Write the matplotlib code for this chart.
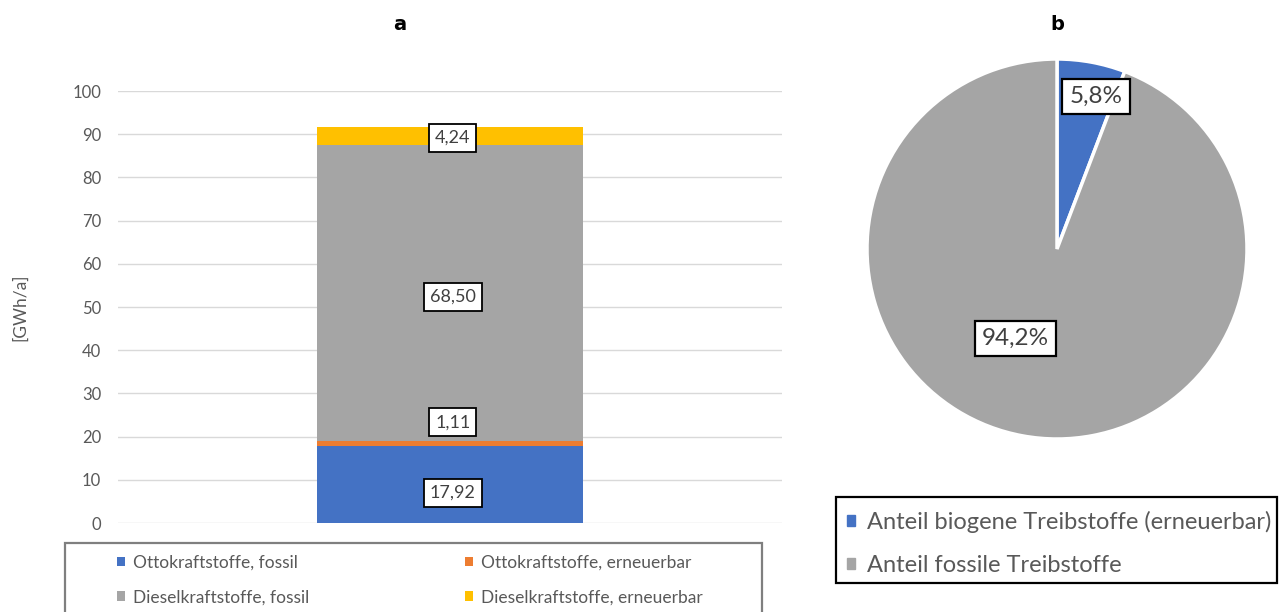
import matplotlib.pyplot as plt
from matplotlib.patches import Patch, Rectangle

# Endenergie Verkehr nach Kraftstoffart [GWh/a]
serien = ['Ottokraftstoffe, fossil', 'Ottokraftstoffe, erneuerbar',
          'Dieselkraftstoffe, fossil', 'Dieselkraftstoffe, erneuerbar']
werte = [17.92, 1.11, 68.50, 4.24]
farben = ['#4472C4', '#ED7D31', '#A5A5A5', '#FFC000']
label_offset = [-6.3, 15, -3, -1.7]  # pt, damit sich die Labels nicht ueberlappen

# Anteile biogen / fossil [%]
anteil_namen = ['Anteil biogene Treibstoffe (erneuerbar)', 'Anteil fossile Treibstoffe']
anteil_werte = [5.8, 94.2]
anteil_farben = ['#4472C4', '#A5A5A5']

plt.rcParams['font.family'] = ['Lato', 'DejaVu Sans']
W, H = 1279, 612


def fx(px):
    return px / W


def fy(py):
    return 1 - py / H


fig = plt.figure(figsize=(W / 100, H / 100), dpi=100)

# --- a: gestapelter Balken ---
ax = fig.add_axes([fx(118), fy(523), fx(782) - fx(118), fy(91) - fy(523)])
unten = 0
for name, wert, farbe, off in zip(serien, werte, farben, label_offset):
    ax.bar(0, wert, bottom=unten, width=1.0, color=farbe, label=name, zorder=2)
    ax.annotate(f'{wert:.2f}'.replace('.', ','), (0, unten + wert / 2),
                xytext=(2, off), textcoords='offset points',
                ha='center', va='center', fontsize=13, color='#404040', zorder=3,
                bbox=dict(boxstyle='square,pad=0.33', fc='white', ec='black', lw=1.3))
    unten += wert

ax.set_xlim(-1.25, 1.25)
ax.set_ylim(0, 100)
ax.set_yticks(range(0, 101, 10))
ax.set_xticks([])
ax.tick_params(axis='y', length=0, labelsize=12, labelcolor='#595959', pad=12)
ax.grid(axis='y', color='#D9D9D9', lw=1, zorder=0)
for s in ax.spines.values():
    s.set_visible(False)
fig.text(fx(20), fy(307), '[GWh/a]', rotation=90, ha='center', va='center',
         fontsize=12.5, color='#595959')

fig.text(fx(400), fy(25), 'a', ha='center', va='center',
         fontsize=14, fontweight='bold', family='DejaVu Sans')

# Legende in zwei Spalten mit Rahmen
h, l = ax.get_legend_handles_labels()
for idx, x0 in (([0, 2], 117), ([1, 3], 465)):
    lg = fig.legend([h[i] for i in idx], [l[i] for i in idx],
                    loc='center left', bbox_to_anchor=(fx(x0), fy(580)),
                    fontsize=12.5, frameon=False, borderpad=0, borderaxespad=0,
                    handlelength=0.46, handleheight=0.46, handletextpad=0.48,
                    labelspacing=1.07, labelcolor='#595959')
fig.add_artist(Rectangle((fx(65), fy(640)), fx(762) - fx(65), fy(543) - fy(640),
                         transform=fig.transFigure, fill=False,
                         ec='#7F7F7F', lw=1.6, clip_on=False))

# --- b: Kreisdiagramm ---
r = 190
ax2 = fig.add_axes([fx(1057 - r), fy(249 + r), fx(2 * r), fy(0) - fy(2 * r)])
keile, _ = ax2.pie(anteil_werte, colors=anteil_farben, startangle=90, counterclock=False,
                   wedgeprops=dict(edgecolor='white', linewidth=2.5))
ax2.set_xlim(-1, 1)
ax2.set_ylim(-1, 1)

pos = [(0.205, 0.803), (-0.218, -0.471)]
for wert, (x, y) in zip(anteil_werte, pos):
    ax2.text(x, y, f'{wert:.1f}%'.replace('.', ','), ha='center', va='center',
             fontsize=17.5, color='#404040',
             bbox=dict(boxstyle='square,pad=0.3', fc='white', ec='black', lw=1.6))

fig.text(fx(1057), fy(25), 'b', ha='center', va='center',
         fontsize=14, fontweight='bold', family='DejaVu Sans')

fig.legend([Patch(color=c) for c in anteil_farben], anteil_namen,
           loc='center left', bbox_to_anchor=(fx(847), fy(543.5)),
           fontsize=17, frameon=False, borderpad=0, borderaxespad=0,
           handlelength=0.35, handleheight=0.35, handletextpad=0.5,
           labelspacing=0.95, labelcolor='#595959')
fig.add_artist(Rectangle((fx(836), fy(583)), fx(1277) - fx(836), fy(497) - fy(583),
                         transform=fig.transFigure, fill=False,
                         ec='black', lw=1.6, clip_on=False))

fig.savefig('out.png', dpi=100)
